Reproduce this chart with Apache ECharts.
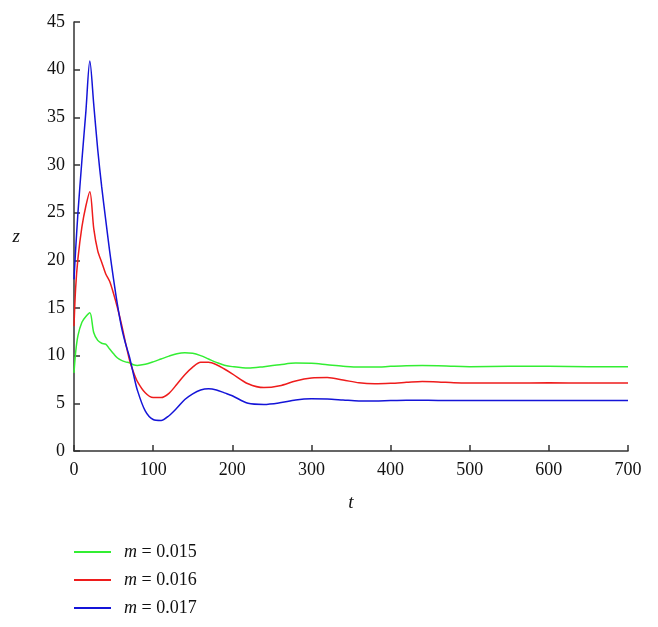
<!DOCTYPE html>
<html>
<head>
<meta charset="utf-8">
<script src="https://cdn.jsdelivr.net/npm/echarts@6/dist/echarts.min.js"></script>
<style>
  html, body { margin: 0; padding: 0; background: #fff; }
  #chart { width: 658px; height: 627px; }
</style>
</head>
<body>
<div id="chart"></div>
<script>
// time points (shared by all three curves)
const tValues = [0, 2, 5, 10, 15, 20, 25, 30, 35, 40, 45, 50, 55, 60, 65, 70, 75, 80, 90, 100,
  110, 120, 130, 140, 150, 160, 170, 180, 190, 200, 220, 240, 260, 280, 300, 320, 340, 360, 380, 400,
  420, 440, 460, 480, 500, 550, 600, 650, 700];

const zGreen = [8.2, 10.3, 12.1, 13.5, 14.1, 14.5, 12.4, 11.6, 11.3, 11.2, 10.7, 10.2, 9.75, 9.5, 9.35, 9.25, 9.05, 8.98, 9.1, 9.35,
  9.65, 9.95, 10.2, 10.3, 10.25, 10.0, 9.65, 9.3, 9.0, 8.85, 8.7, 8.85, 9.05, 9.22, 9.2, 9.05, 8.9, 8.8, 8.8, 8.88,
  8.95, 8.97, 8.95, 8.88, 8.85, 8.88, 8.88, 8.85, 8.85];

const zRed = [13.1, 17.0, 20.2, 23.5, 25.7, 27.2, 23.3, 21.0, 19.8, 18.6, 17.8, 16.5, 15.0, 13.3, 11.4, 9.6, 8.3, 7.3, 6.1, 5.6,
  5.6, 6.05, 7.0, 8.0, 8.8, 9.3, 9.3, 9.05, 8.6, 8.1, 7.05, 6.65, 6.85, 7.35, 7.65, 7.7, 7.45, 7.15, 7.05, 7.1,
  7.2, 7.3, 7.25, 7.15, 7.12, 7.12, 7.15, 7.13, 7.13];

const zBlue = [18.0, 21.0, 25.0, 30.5, 35.6, 40.9, 36.3, 31.6, 27.7, 24.3, 21.0, 18.0, 15.3, 13.0, 11.3, 9.9, 8.1, 6.4, 4.2, 3.3,
  3.2, 3.7, 4.5, 5.4, 6.0, 6.4, 6.53, 6.4, 6.1, 5.8, 5.0, 4.88, 5.05, 5.35, 5.47, 5.45, 5.35, 5.25, 5.25, 5.3,
  5.33, 5.32, 5.3, 5.3, 5.3, 5.3, 5.3, 5.3, 5.3];

const seriesNames = ["m = 0.015", "m = 0.016", "m = 0.017"];
const seriesColors = ["#33ee33", "#ee1c1c", "#1414d8"];

const serif = "'Liberation Serif', 'DejaVu Serif', serif";

const pairs = (zs) => tValues.map((t, i) => [t, zs[i]]);

const chart = echarts.init(document.getElementById("chart"), null, { renderer: "canvas" });

const makeSeries = (name, zs, color) => ({
  name: name,
  type: "line",
  data: pairs(zs),
  showSymbol: false,
  smooth: 0.3,
  lineStyle: { color: color, width: 1.5 },
  itemStyle: { color: color },
  animation: false,
});

chart.setOption({
  animation: false,
  grid: { left: 74, right: 30, top: 22, bottom: 176 },
  xAxis: {
    type: "value",
    min: 0,
    max: 700,
    interval: 100,
    name: "t",
    nameLocation: "middle",
    nameGap: 42,
    nameTextStyle: { fontFamily: serif, fontStyle: "italic", fontSize: 19, color: "#111" },
    axisLine: { lineStyle: { color: "#333", width: 1.5 } },
    axisTick: { inside: true, length: 6, lineStyle: { color: "#333", width: 1.5 } },
    axisLabel: { fontFamily: serif, fontSize: 18, color: "#111", margin: 10 },
    splitLine: { show: false },
  },
  yAxis: {
    type: "value",
    min: 0,
    max: 45,
    interval: 5,
    name: "z",
    nameLocation: "middle",
    nameGap: 54,
    nameRotate: 0,
    nameTextStyle: { fontFamily: serif, fontStyle: "italic", fontSize: 19, color: "#111" },
    axisLine: { show: true, lineStyle: { color: "#333", width: 1.5 } },
    axisTick: { show: true, inside: true, length: 6, lineStyle: { color: "#333", width: 1.5 } },
    axisLabel: { fontFamily: serif, fontSize: 18, color: "#111", margin: 9 },
    splitLine: { show: false },
  },
  legend: {
    orient: "vertical",
    left: 74,
    top: 542,
    padding: 0,
    itemGap: 8,
    itemWidth: 37,
    itemHeight: 2,
    icon: "rect",
    data: seriesNames,
    formatter: (name) => "{i|m}" + name.slice(1),
    textStyle: {
      fontFamily: serif,
      fontSize: 18,
      color: "#111",
      lineHeight: 20,
      padding: [0, 0, 0, 8],
      rich: {
        i: { fontFamily: serif, fontStyle: "italic", fontSize: 18, color: "#111", lineHeight: 20 },
      },
    },
  },
  series: [
    makeSeries(seriesNames[0], zGreen, seriesColors[0]),
    makeSeries(seriesNames[1], zRed, seriesColors[1]),
    makeSeries(seriesNames[2], zBlue, seriesColors[2]),
  ],
});
</script>
</body>
</html>
